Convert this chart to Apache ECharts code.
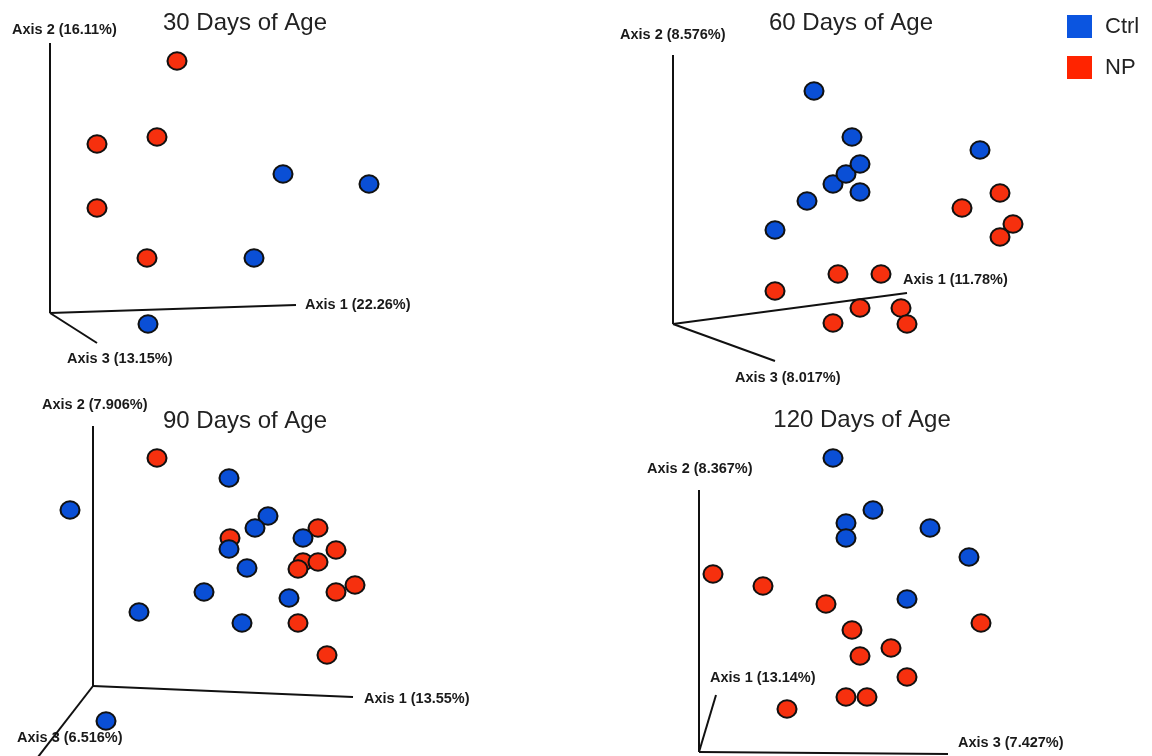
<!DOCTYPE html>
<html><head><meta charset="utf-8">
<script src="https://cdn.jsdelivr.net/npm/echarts@6/dist/echarts.min.js"></script>
<style>html,body{margin:0;padding:0;background:#fff}#c{width:1152px;height:756px}</style>
</head><body><div id="c"></div>
<script>
// ---- data (projected ordination coordinates; origin = axes junction, y up) ----
const groupNames = ['Ctrl', 'NP'];
const panelTitles = ['30 Days of Age', '60 Days of Age', '90 Days of Age', '120 Days of Age'];

const axisNames30 = ['Axis 1 (22.26%)', 'Axis 2 (16.11%)', 'Axis 3 (13.15%)'];
const axisNames60 = ['Axis 1 (11.78%)', 'Axis 2 (8.576%)', 'Axis 3 (8.017%)'];
const axisNames90 = ['Axis 1 (13.55%)', 'Axis 2 (7.906%)', 'Axis 3 (6.516%)'];
const axisNames120 = ['Axis 1 (13.14%)', 'Axis 2 (8.367%)', 'Axis 3 (7.427%)'];

// projected end points of the three axes [Axis1, Axis2, Axis3]
const axisEnds30 = [[246, 8], [0, 270], [47, -30]];
const axisEnds60 = [[234, 31], [0, 269], [102, -37]];
const axisEnds90 = [[260, -11], [0, 260], [-62, -80]];
const axisEnds120 = [[17, 57], [0, 262], [249, -2]];

const ctrl30 = [[233, 139], [319, 129], [204, 55], [98, -11]];
const np30 = [[127, 252], [107, 176], [47, 169], [47, 105], [97, 55]];

const ctrl60 = [[141, 233], [179, 187], [102, 94], [134, 123], [160, 140], [173, 150], [187, 160], [187, 132], [307, 174]];
const np60 = [[327, 131], [289, 116], [340, 100], [327, 87], [165, 50], [208, 50], [102, 33], [187, 16], [160, 1], [228, 16], [234, 0]];

const ctrl90 = [[136, 208], [-23, 176], [175, 170], [162, 158], [210, 148], [136, 137], [154, 118], [111, 94], [196, 88], [46, 74], [149, 63], [13, -35]];
const np90 = [[64, 228], [137, 148], [225, 158], [243, 136], [210, 124], [225, 124], [205, 117], [262, 101], [243, 94], [205, 63], [234, 31]];

const ctrl120 = [[134, 294], [174, 242], [147, 229], [147, 214], [231, 224], [270, 195], [208, 153]];
const np120 = [[14, 178], [64, 166], [127, 148], [153, 122], [192, 104], [161, 96], [282, 129], [208, 75], [147, 55], [168, 55], [88, 43]];

// ---- layout ----
const COLORS = { Ctrl: '#0a4fd6', NP: '#f6300e' };
const panels = [
  { q: [0, 0], o: [50, 313], title: [245, 23], ends: axisEnds30, names: axisNames30, ctrl: ctrl30, np: np30,
    lab: [[305, 305], [12, 30], [67, 359]] },
  { q: [576, 0], o: [673, 324], title: [851, 23], ends: axisEnds60, names: axisNames60, ctrl: ctrl60, np: np60,
    lab: [[903, 280], [620, 35], [735, 378]] },
  { q: [0, 378], o: [93, 686], title: [245, 421], ends: axisEnds90, names: axisNames90, ctrl: ctrl90, np: np90,
    lab: [[364, 699], [42, 405], [17, 738]] },
  { q: [576, 378], o: [699, 752], title: [862, 420], ends: axisEnds120, names: axisNames120, ctrl: ctrl120, np: np120,
    lab: [[710, 678], [647, 469], [958, 743]] }
];
const PW = 576, PH = 378;

const grid = [], xAxis = [], yAxis = [], series = [], graphic = [];
panels.forEach((p, i) => {
  grid.push({ left: p.q[0], top: p.q[1], width: PW, height: PH });
  xAxis.push({ type: 'value', gridIndex: i, min: p.q[0] - p.o[0], max: p.q[0] + PW - p.o[0], show: false });
  yAxis.push({ type: 'value', gridIndex: i, min: p.o[1] - (p.q[1] + PH), max: p.o[1] - p.q[1], show: false });
  p.ends.forEach(e => {
    series.push({ type: 'line', xAxisIndex: i, yAxisIndex: i, data: [[0, 0], e], symbol: 'none', silent: true,
      lineStyle: { color: '#111', width: 2 }, clip: false, z: 1 });
  });
  [['NP', p.np], ['Ctrl', p.ctrl]].forEach(([name, d]) => {
    series.push({ type: 'scatter', name, xAxisIndex: i, yAxisIndex: i, data: d, symbolSize: [19, 17.5],
      itemStyle: { color: COLORS[name], borderColor: '#111', borderWidth: 2, opacity: 1 }, z: 3 });
  });
  graphic.push({ type: 'text', x: p.title[0], y: p.title[1],
    style: { text: panelTitles[i], align: 'center', verticalAlign: 'middle', fill: '#222',
      font: '24px "Liberation Sans", Arial, sans-serif' } });
  p.names.forEach((t, k) => {
    graphic.push({ type: 'text', x: p.lab[k][0], y: p.lab[k][1],
      style: { text: t, align: 'left', verticalAlign: 'middle', fill: '#1a1a1a',
        font: 'bold 14.5px "Liberation Sans", Arial, sans-serif' } });
  });
});

const chart = echarts.init(document.getElementById('c'));
chart.setOption({
  animation: false,
  backgroundColor: '#fff',
  grid, xAxis, yAxis, series, graphic,
  legend: {
    data: [
      { name: 'Ctrl', itemStyle: { color: '#0b55e0', borderWidth: 0 } },
      { name: 'NP', itemStyle: { color: '#ff2400', borderWidth: 0 } }
    ],
    orient: 'vertical', left: 1062, top: 10, icon: 'rect',
    itemWidth: 25, itemHeight: 23, itemGap: 18,
    textStyle: { fontSize: 22, color: '#222', fontFamily: '"Liberation Sans", Arial, sans-serif', padding: [0, 0, 0, 8] }
  }
});
</script>
</body></html>
